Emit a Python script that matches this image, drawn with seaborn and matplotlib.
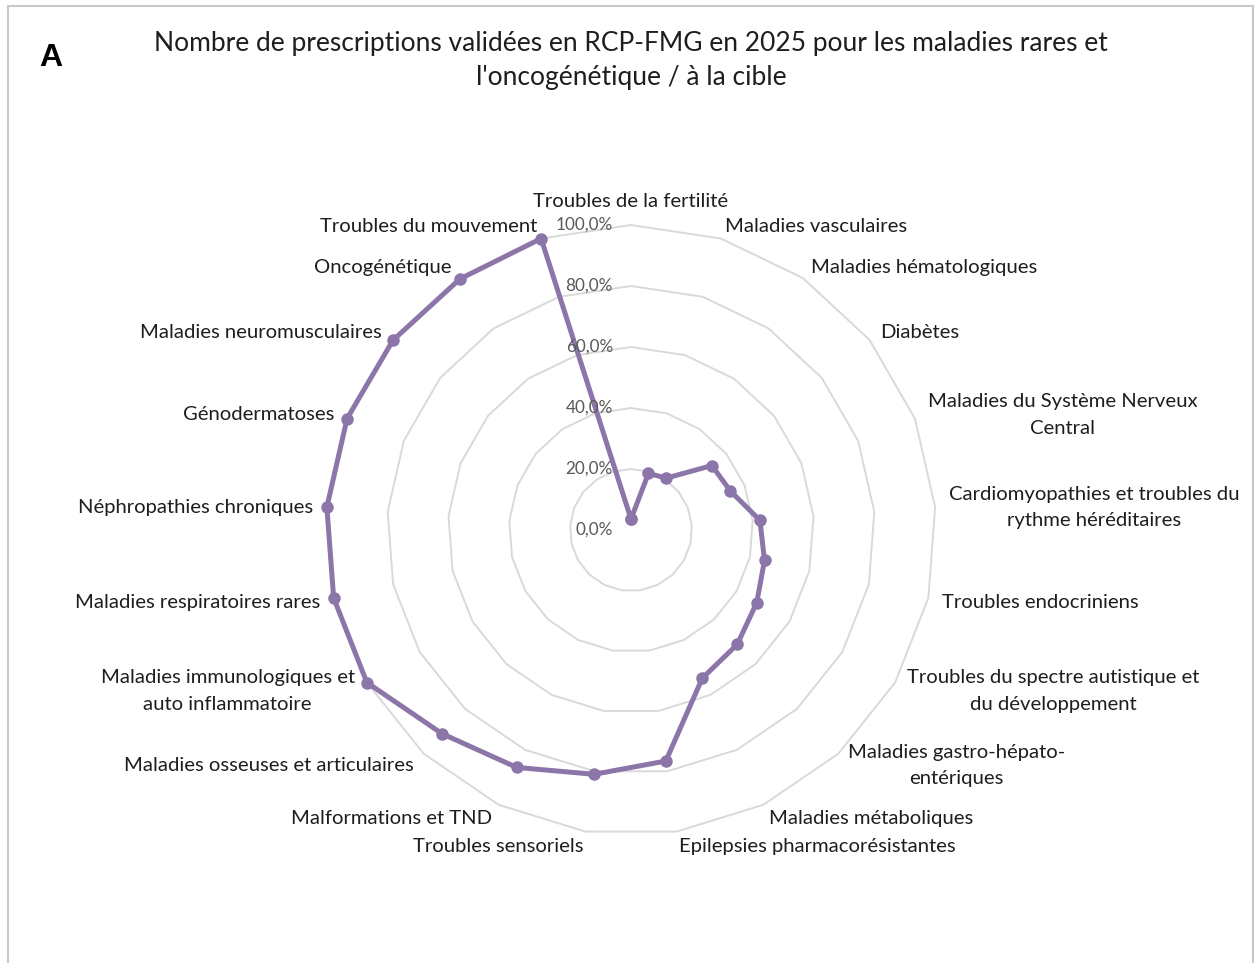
import numpy as np
import pandas as pd
import matplotlib
matplotlib.use("Agg")
import matplotlib.pyplot as plt
import matplotlib.transforms as mtransforms
from matplotlib.patches import Rectangle
import seaborn as sns

# ---- data ----
categories = [
    "Troubles de la fertilité",
    "Maladies vasculaires",
    "Maladies hématologiques",
    "Diabètes",
    "Maladies du Système Nerveux\nCentral",
    "Cardiomyopathies et troubles du\nrythme héréditaires",
    "Troubles endocriniens",
    "Troubles du spectre autistique et\ndu développement",
    "Maladies gastro-hépato-\nentériques",
    "Maladies métaboliques",
    "Epilepsies pharmacorésistantes",
    "Troubles sensoriels",
    "Malformations et TND",
    "Maladies osseuses et articulaires",
    "Maladies immunologiques et\nauto inflammatoire",
    "Maladies respiratoires rares",
    "Néphropathies chroniques",
    "Génodermatoses",
    "Maladies neuromusculaires",
    "Oncogénétique",
    "Troubles du mouvement",
]
values = [3.6, 19.4, 20.6, 33.9, 35.0, 42.4, 44.9, 47.6, 51.2, 53.9,
          76.6, 81.0, 86.4, 91.1, 100.0, 100.0, 100.0, 100.0, 99.8, 99.6, 100.0]
tick_values = [0, 20, 40, 60, 80, 100]
tick_labels = ["0,0%", "20,0%", "40,0%", "60,0%", "80,0%", "100,0%"]
title_text = ("Nombre de prescriptions validées en RCP-FMG en 2025 pour les maladies rares et\n"
              "l'oncogénétique / à la cible")
panel_letter = "A"

# ---- style ----
sns.set_theme(style="white")
plt.rcParams["font.family"] = ["Lato", "DejaVu Sans"]

LINE_COLOR = "#8C75A8"
GRID_COLOR = "#D9D9D9"
TEXT_COLOR = "#1E1E1E"
TICK_COLOR = "#595959"

W, H = 1254, 963
fig = plt.figure(figsize=(W / 100, H / 100), dpi=100)
fig.patch.set_facecolor("white")

cx, cy, R = 631, 530, 305  # pixel geometry of plot area
ax = fig.add_axes([(cx - R) / W, 1 - (cy + R) / H, 2 * R / W, 2 * R / H], projection="polar")
ax.set_theta_zero_location("N")
ax.set_theta_direction(-1)
ax.set_facecolor("none")

n = len(categories)
theta = np.arange(n) * 2 * np.pi / n
theta_closed = np.append(theta, 2 * np.pi)

# polygon grid rings
for tv in tick_values[1:]:
    ax.plot(theta_closed, [tv] * (n + 1), color=GRID_COLOR, lw=1.4, zorder=1, clip_on=False)

df = pd.DataFrame({"theta": theta_closed, "value": values + [values[0]]})
sns.lineplot(data=df, x="theta", y="value", sort=False, ax=ax, color=LINE_COLOR,
             linewidth=3.6, marker="o", markersize=9, markeredgecolor=LINE_COLOR,
             markeredgewidth=0, zorder=3)
for ln in ax.lines:
    ln.set_clip_on(False)

ax.set_ylim(0, max(tick_values))
ax.set_xticks([])
ax.set_yticks([])
ax.grid(False)
ax.spines["polar"].set_visible(False)
ax.set_xlabel("")
ax.set_ylabel("")

# radial tick labels
tick_tr = mtransforms.offset_copy(ax.transData, fig=fig, x=-18, y=0, units="dots")
for tv, tl in zip(tick_values, tick_labels):
    ax.text(0, tv, tl, transform=tick_tr, ha="right", va="center",
            fontsize=12.3, color=TICK_COLOR, zorder=4)

# category labels
lab_tr = mtransforms.offset_copy(ax.transData, fig=fig, x=0, y=-1.5, units="dots")
for i, (th, lab) in enumerate(zip(theta, categories)):
    s = np.sin(th)
    if s > 0.05:
        ha = "left"
    elif s < -0.05:
        ha = "right"
    else:
        ha = "center"
    if i == 0:
        va, r = "bottom", 100 + 16 / R * 100
    else:
        va, r = "center", 100 + 14 / R * 100
    ax.text(th, r, lab, ha=ha, va=va, multialignment="center", fontsize=14.6,
            color=TEXT_COLOR, linespacing=1.65, clip_on=False, transform=lab_tr)

# title and panel letter
fig.text(cx / W, 1 - 61 / H, title_text, ha="center", va="center", fontsize=19,
         color=TEXT_COLOR, linespacing=1.45)
fig.text(51 / W, 1 - 58 / H, panel_letter, ha="center", va="center", fontsize=23,
         fontweight="bold", family=["Liberation Sans", "DejaVu Sans"], color="black")

# chart border
fig.patches.append(Rectangle((8 / W, -0.05), (1253 - 8) / W, 1 - 6 / H + 0.05,
                             transform=fig.transFigure, fill=False,
                             edgecolor="#C8C8C8", lw=1.5))

fig.savefig("out.png", dpi=100, facecolor="white")
